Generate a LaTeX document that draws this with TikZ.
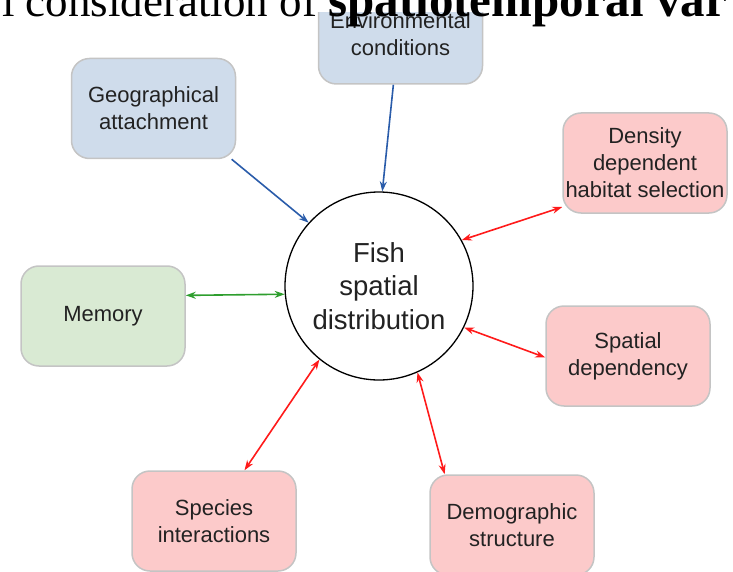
\documentclass[tikz,border=0pt]{standalone}
\usepackage{fontspec}
\setmainfont{Liberation Sans}
\newfontfamily\titlefont{Liberation Serif}
\usetikzlibrary{arrows.meta}

\definecolor{abioblue}{HTML}{CFDCEB}
\definecolor{biored}{HTML}{FCCACA}
\definecolor{memgreen}{HTML}{D9EAD3}
\definecolor{boxgray}{HTML}{C4C4C4}
\definecolor{inkgray}{HTML}{222222}
\definecolor{linkblue}{HTML}{2A5CAA}
\definecolor{linkred}{HTML}{FF1A1A}
\definecolor{linkgreen}{HTML}{2E9E2E}

\begin{document}
\begin{tikzpicture}[
        x=1pt, y=-1pt,
        factor/.style = {
            draw=boxgray, line width=1.5pt, rounded corners=18pt,
            minimum width=164pt, minimum height=100pt, inner sep=0pt,
            align=center, text=inkgray,
            font=\fontsize{22}{27}\selectfont
        },
        hub/.style = {
            circle, draw=black, line width=1.3pt, fill=white,
            minimum size=188pt, inner sep=0pt,
            align=center, text=inkgray,
            font=\fontsize{27.5}{33.5}\selectfont
        },
        oneway/.style = {line width=1.6pt, -{Stealth[length=10pt,width=7pt]}},
        twoway/.style = {line width=1.6pt, {Stealth[length=10pt,width=7pt]}-{Stealth[length=10pt,width=7pt]}}
    ]
    \clip (0,0) rectangle (733,572);

    \node[hub] (fish) at (379,286) {Fish\\spatial\\distribution};

    \node[factor, fill=abioblue] (env) at (400.5,34) {Environmental\\conditions};
    \node[factor, fill=abioblue] (geo) at (153.5,108.5) {Geographical\\attachment};
    \node[factor, fill=biored] (dens) at (645,163) {Density\\dependent\\habitat selection};
    \node[factor, fill=memgreen] (mem) at (103,316) {Memory};
    \node[factor, fill=biored] (spa) at (628,356) {Spatial\\dependency};
    \node[factor, fill=biored] (spe) at (214,521) {Species\\interactions};
    \node[factor, fill=biored] (demo) at (512,525) {Demographic\\structure};

    % abiotic drivers
    \draw[oneway, linkblue] (geo.-33) -- (fish.138.5);
    \draw[oneway, linkblue] (env.262) -- (fish.88);
    % feedbacks
    \draw[twoway, linkgreen] (mem.14) -- (fish.185.5);
    \draw[twoway, linkred] (fish.29) -- (dens.208);
    \draw[twoway, linkred] (fish.-26) -- (spa.181);
    \draw[twoway, linkred] (fish.231) -- (spe.59);
    \draw[twoway, linkred] (fish.-66) -- (demo.143);

    % slide title strip on top
    \fill[white] (0,0) rectangle (733,12);
    \node[anchor=base west, inner sep=0pt, font=\titlefont\fontsize{45}{50}\selectfont]
        (title) at (2,17) {l consideration of {\fontsize{49}{50}\selectfont\bfseries spatiotemporal var}};
\end{tikzpicture}
\end{document}
